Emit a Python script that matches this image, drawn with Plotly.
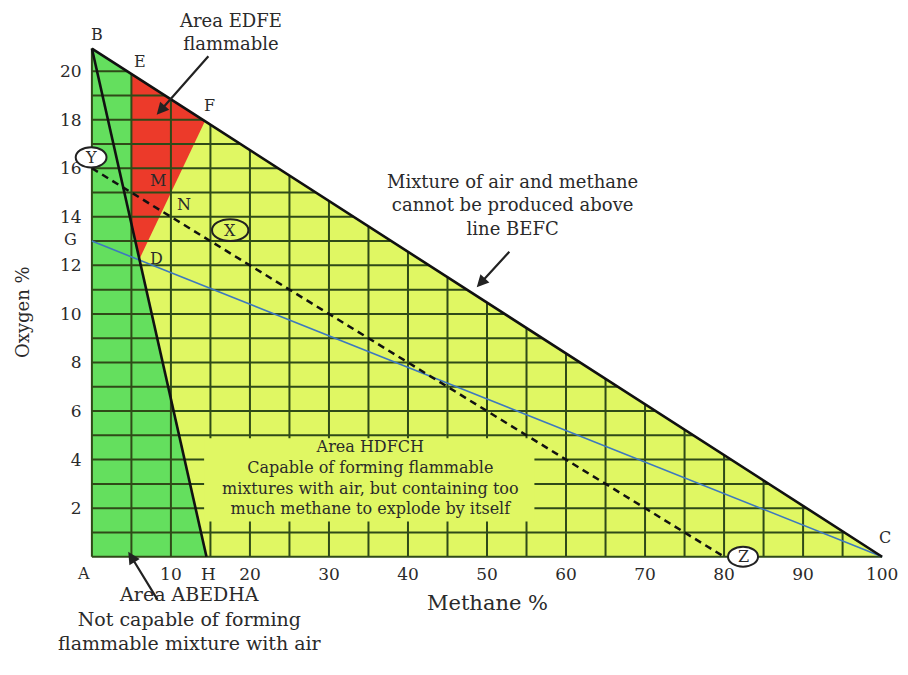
import plotly.graph_objects as go

# ---------------- data ----------------
methane_ticks = [10, 20, 30, 40, 50, 60, 70, 80, 90, 100]
oxygen_ticks = [2, 4, 6, 8, 10, 12, 14, 16, 18, 20]
grid_methane = [5, 10, 15, 20, 25, 30, 35, 40, 45, 50, 55, 60, 65, 70, 75, 80, 85, 90, 95]
grid_oxygen = list(range(1, 21))

point_A = (0.0, 0.0)
point_B = (0.0, 20.93)
point_C = (100.0, 0.0)
point_E = (5.0, 19.88)
point_F = (14.3, 17.94)
point_D = (6.0, 12.25)
point_H = (14.5, 0.0)
point_P = (5.0, 13.71)      # where the left edge of the red area meets line BH
point_G = (0.0, 13.0)
point_Y = (0.0, 16.0)
point_Z = (80.0, 0.0)
text_box = [(14.2, 1.45), (56.0, 1.45), (56.0, 4.88), (14.2, 4.88)]

# ---------------- styling ----------------
FONT = "DejaVu Serif"
TXT = "#2a2a2a"
YELLOW = "#e0f763"
GREEN = "#64df5e"
RED = "#ec3a2a"
GRID = "#2f4a18"

XR = [-1, 101]
YR = [-0.3, 21.2]
ML, MR, MT, MB = 84, 18, 42, 111
W, H = 908, 675


def xp(x):
    return (x - XR[0]) / (XR[1] - XR[0])


def yp(y):
    return (y - YR[0]) / (YR[1] - YR[0])


def bc(m):
    """oxygen on the air-dilution line BC at a given methane %"""
    return point_B[1] * (1 - m / point_C[0])


fig = go.Figure()


def poly(pts, color):
    xs = [p[0] for p in pts] + [pts[0][0]]
    ys = [p[1] for p in pts] + [pts[0][1]]
    fig.add_trace(go.Scatter(x=xs, y=ys, mode="lines", fill="toself",
                             fillcolor=color, line=dict(width=0),
                             hoverinfo="skip", showlegend=False))


poly([point_A, point_B, point_C], YELLOW)
poly([point_A, point_B, point_E, point_P, point_H], GREEN)
poly([point_E, point_F, point_D, point_P], RED)

# grid clipped to triangle ABC
gx, gy = [], []
for m in grid_methane:
    gx += [m, m, None]
    gy += [0, bc(m), None]
for o in grid_oxygen:
    gx += [0, point_C[0] * (1 - o / point_B[1]), None]
    gy += [o, o, None]
gx += [point_A[0], point_B[0], None, point_A[0], point_C[0]]
gy += [point_A[1], point_B[1], None, point_A[1], point_C[1]]
fig.add_trace(go.Scatter(x=gx, y=gy, mode="lines",
                         line=dict(color=GRID, width=2),
                         hoverinfo="skip", showlegend=False))

# background behind the HDFCH text (hides the grid)
poly(text_box, YELLOW)

# blue line G-C
fig.add_trace(go.Scatter(x=[point_G[0], point_C[0]], y=[point_G[1], point_C[1]],
                         mode="lines", line=dict(color="#3d78bf", width=1.6),
                         hoverinfo="skip", showlegend=False))
# dashed line Y-Z
fig.add_trace(go.Scatter(x=[point_Y[0], point_Z[0]], y=[point_Y[1], point_Z[1]],
                         mode="lines", line=dict(color="#111", width=2.5, dash="7px,5px"),
                         hoverinfo="skip", showlegend=False))
# line B-D-H
fig.add_trace(go.Scatter(x=[point_B[0], point_D[0], point_H[0]],
                         y=[point_B[1], point_D[1], point_H[1]],
                         mode="lines", line=dict(color="#111", width=2.6),
                         hoverinfo="skip", showlegend=False))
# line B-E-F-C
fig.add_trace(go.Scatter(x=[point_B[0], point_E[0], point_F[0], point_C[0]],
                         y=[point_B[1], point_E[1], point_F[1], point_C[1]],
                         mode="lines", line=dict(color="#111", width=2.6),
                         hoverinfo="skip", showlegend=False))

ann = []


def label(x, y, text, size=16, **kw):
    ann.append(dict(x=xp(x), y=yp(y), xref="paper", yref="paper", text=text,
                    xanchor="center", yanchor="middle",
                    showarrow=False, font=dict(family=FONT, size=size, color=TXT), **kw))


# point letters
label(0.6, 21.5, "B")
label(6.1, 20.4, "E")
label(14.9, 18.6, "F")
label(8.4, 15.5, "M")
label(11.7, 14.5, "N")
label(8.2, 12.3, "D")
label(-2.7, 13.05, "G")
label(-1.1, -0.7, "A")
label(14.7, -0.7, "H", size=17)
label(100.4, 0.8, "C")
label(-0.1, 16.45, "Y")
label(17.5, 13.45, "X")
label(82.4, 0.0, "Z")

# ellipses around Y, X, Z
shapes = []
for (cx, cy, rx, ry, fill) in [(-0.1, 16.45, 1.95, 0.42, "white"),
                               (17.5, 13.45, 2.3, 0.45, "rgba(0,0,0,0)"),
                               (82.4, 0.0, 1.9, 0.41, "white")]:
    shapes.append(dict(type="circle", xref="paper", yref="paper",
                       x0=xp(cx - rx), x1=xp(cx + rx), y0=yp(cy - ry), y1=yp(cy + ry),
                       line=dict(color="#222", width=2), fillcolor=fill, layer="above"))

# texts
label(17.5, 21.6, "Area EDFE<br>flammable", size=18)
label(53.2, 14.5, "Mixture of air and methane<br>cannot be produced above<br>line BEFC", size=18)
label(35.2, 3.25, "Area HDFCH<br>Capable of forming flammable<br>mixtures with air, but containing too<br>much methane to explode by itself", size=16)
label(12.4, -2.55, "Area ABEDHA<br>Not capable of forming<br>flammable mixture with air", size=19)

# axis titles
ann.append(dict(x=(488 - ML) / (W - ML - MR), y=(H - MB - 603) / (H - MT - MB),
                xref="paper", yref="paper", text="Methane %", showarrow=False,
                xanchor="center", yanchor="middle",
                font=dict(family=FONT, size=21, color=TXT)))
ann.append(dict(x=(23 - ML) / (W - ML - MR), y=(H - MB - 312) / (H - MT - MB),
                xref="paper", yref="paper", text="Oxygen %", showarrow=False, textangle=-90,
                xanchor="center", yanchor="middle",
                font=dict(family=FONT, size=18, color=TXT)))

# arrows
for (hx, hy, axp, ayp) in [(8.2, 18.2, 53, -60), (48.7, 11.1, 34, -37), (4.6, 0.2, 30, 49)]:
    ann.append(dict(x=xp(hx), y=yp(hy), xref="paper", yref="paper", text="",
                    showarrow=True, ax=axp, ay=ayp, arrowhead=2, arrowsize=1.1,
                    arrowwidth=2.2, arrowcolor="#222"))

axis_common = dict(showgrid=False, zeroline=False, showline=False, automargin=False,
                   ticks="outside", ticklen=4, tickcolor="rgba(0,0,0,0)",
                   tickfont=dict(family=FONT, size=17, color=TXT), fixedrange=True)

fig.update_layout(
    width=W, height=H,
    margin=dict(l=ML, r=MR, t=MT, b=MB, autoexpand=False),
    paper_bgcolor="white", plot_bgcolor="white",
    xaxis=dict(range=XR, tickvals=methane_ticks, ticktext=[str(v) for v in methane_ticks],
               ticklabelstandoff=-9, **axis_common),
    yaxis=dict(range=YR, tickvals=oxygen_ticks, ticktext=[str(v) for v in oxygen_ticks],
               ticklabelstandoff=-6, **axis_common),
    annotations=ann, shapes=shapes, showlegend=False,
)

fig.write_html("out.html", config={"displayModeBar": False},
               post_script="document.body.style.margin='0';")
